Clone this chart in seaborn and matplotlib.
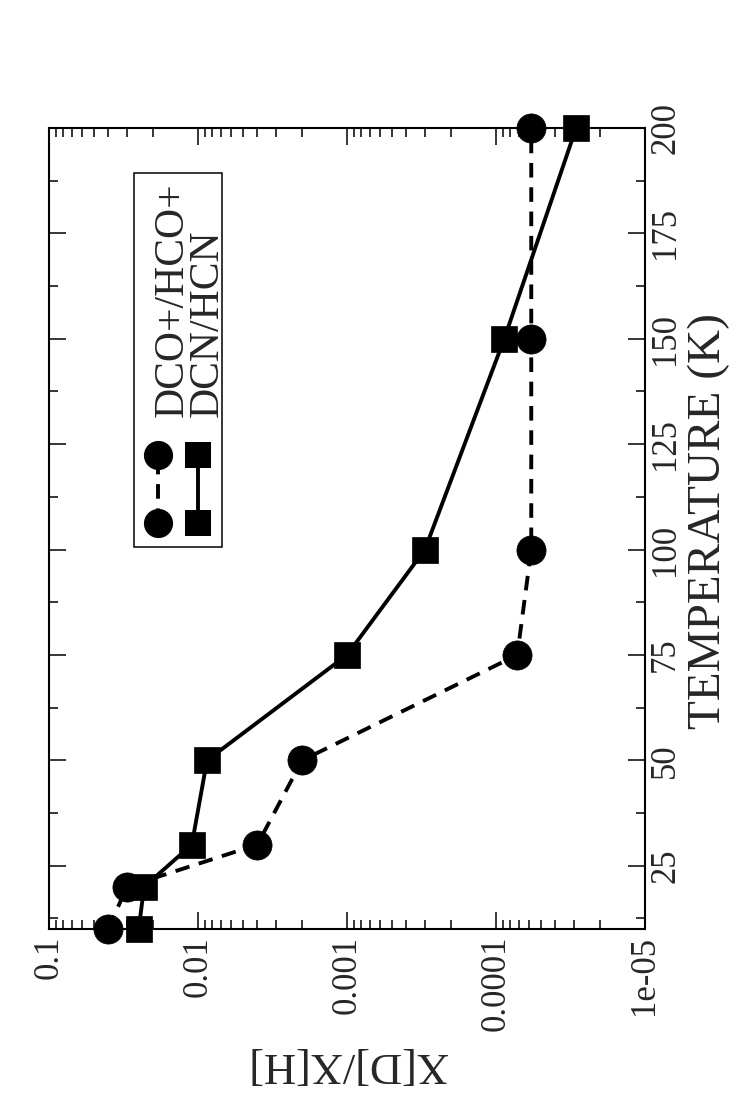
import numpy as np
import pandas as pd
import matplotlib
matplotlib.use("Agg")
import matplotlib.pyplot as plt
import seaborn as sns
from matplotlib.lines import Line2D
from matplotlib.patches import Rectangle
from matplotlib.ticker import MultipleLocator

# ---- data ----
temperature = [10, 20, 30, 50, 75, 100, 150, 200]
dco_ratio = [0.040, 0.030, 0.0040, 0.0020, 7.2e-5, 5.8e-5, 5.8e-5, 5.8e-5]
dcn_ratio = [0.025, 0.023, 0.011, 0.0087, 0.0010, 3.0e-4, 8.8e-5, 2.9e-5]
series_names = ["DCO+/HCO+", "DCN/HCN"]
ratio_ticks = [0.1, 0.01, 0.001, 0.0001, 1e-05]
ratio_labels = ["0.1", "0.01", "0.001", "0.0001", "1e-05"]
temp_ticks = [25, 50, 75, 100, 125, 150, 175, 200]
temp_labels = ["25", "50", "75", "100", "125", "150", "175", "200"]

df = pd.DataFrame({
    "T": temperature * 2,
    "ratio": dco_ratio + dcn_ratio,
    "species": [series_names[0]] * len(temperature) + [series_names[1]] * len(temperature),
})

sns.set_style("ticks")
plt.rcParams["font.family"] = ["Liberation Serif", "DejaVu Serif"]
plt.rcParams["lines.scale_dashes"] = False
plt.rcParams["axes.linewidth"] = 1.5

W, H = 746, 1100
fig = plt.figure(figsize=(W / 100, H / 100), dpi=100)
ax_l, ax_r, ax_t, ax_b = 49, 645, 128, 929
ax = fig.add_axes([ax_l / W, (H - ax_b) / H, (ax_r - ax_l) / W, (ax_b - ax_t) / H])

sns.lineplot(
    data=df, x="ratio", y="T", hue="species", style="species",
    palette={series_names[0]: "black", series_names[1]: "black"},
    markers={series_names[0]: "o", series_names[1]: "s"},
    dashes={series_names[0]: (10.5, 7.0), series_names[1]: ""},
    sort=False, estimator=None, linewidth=2.8, markersize=21,
    markeredgecolor="black", markeredgewidth=0.5,
    legend=False, clip_on=False, zorder=4, ax=ax,
)
for ln in ax.lines:
    if ln.get_marker() == "s":
        ln.set_markersize(18.5)

ax.set_xscale("log")
ax.set_xlim(0.1, 1e-05)
ax.set_ylim(10, 200)
ax.set_xticks(ratio_ticks, ratio_labels)
ax.set_yticks(temp_ticks, temp_labels)
ax.yaxis.set_minor_locator(MultipleLocator(12.5))

ax.tick_params(axis="both", which="both", direction="in", top=True, bottom=True,
               left=True, right=True, color="black", width=1.1)
ax.tick_params(axis="both", which="major", length=12.5, labelsize=25)
ax.tick_params(axis="both", which="minor", length=6.2)
ax.tick_params(axis="y", labelleft=False, labelright=True, pad=3)
ax.tick_params(axis="x", pad=5)
for lab in ax.get_xticklabels():
    lab.set_rotation(90)
    lab.set_va("top")
    lab.set_ha("center")
for lab in ax.get_yticklabels():
    lab.set_rotation(90)
    lab.set_va("center")
    lab.set_ha("left")
for s in ax.spines.values():
    s.set_color("black")
    s.set_linewidth(1.5)

def fx(px):
    return (px - ax_l) / (ax_r - ax_l)

def fy(py):
    return (ax_b - py) / (ax_b - ax_t)

# axis labels
ax.set_ylabel("TEMPERATURE (K)", fontsize=34)
ax.yaxis.set_label_position("right")
ax.yaxis.set_label_coords(fx(720), fy(521))
ax.yaxis.label.set(rotation=90, rotation_mode="anchor", ha="center", va="baseline")

ax.set_xlabel("X[D]/X[H]", fontsize=32)
ax.xaxis.set_label_coords(fx(347), fy(1053))
ax.xaxis.label.set(rotation=180, rotation_mode="anchor", ha="center", va="baseline")

# rotated legend
ax.add_patch(Rectangle((fx(134), fy(547)), fx(222) - fx(134), fy(173) - fy(547),
                       transform=ax.transAxes, fill=False, edgecolor="black",
                       linewidth=1.1, zorder=5, clip_on=False))
ax.add_line(Line2D([fx(158), fx(158)], [fy(523), fy(455)], transform=ax.transAxes,
                   color="black", linewidth=2.8, dashes=(10.5, 7.0), marker="o",
                   markersize=21, markeredgewidth=0, zorder=6, clip_on=False))
ax.add_line(Line2D([fx(198), fx(198)], [fy(523), fy(455)], transform=ax.transAxes,
                   color="black", linewidth=2.8, marker="s", markersize=18.5,
                   markeredgewidth=0, zorder=6, clip_on=False))
ax.text(fx(153), fy(417), series_names[0] + "\n" + series_names[1],
        transform=ax.transAxes, fontsize=30, linespacing=0.88,
        rotation=90, rotation_mode="anchor", ha="left", va="top",
        multialignment="left", zorder=6)

fig.savefig("out.png", dpi=100, facecolor="white")
